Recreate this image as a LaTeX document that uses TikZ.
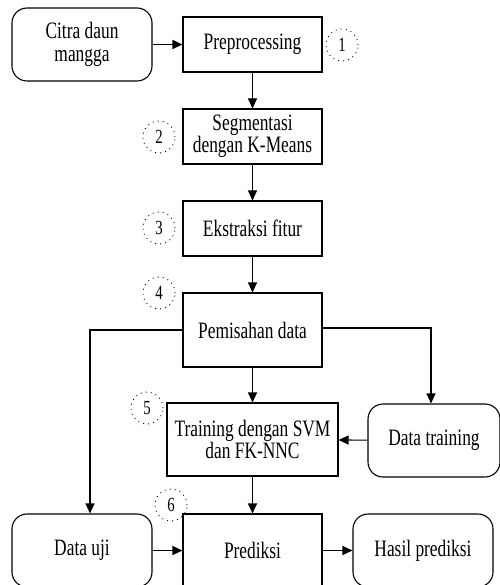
\documentclass[tikz,border=0pt]{standalone}
\usepackage{fontspec}
\setmainfont{Liberation Serif}[FakeStretch=0.74]
\usetikzlibrary{arrows.meta}
\begin{document}
\begin{tikzpicture}[x=1pt,y=-1pt,
  every node/.style={font=\fontsize{23.5}{22.5}\selectfont},
  box/.style={draw, line width=1.1pt, align=center, inner sep=0pt, minimum width=139pt},
  rbox/.style={box, rounded corners=15pt},
  num/.style={draw, circle, line width=0.9pt, dash pattern=on 0.9pt off 4.2pt, minimum size=32pt, inner sep=0pt, font=\fontsize{20}{20}\selectfont},
  conn/.style={line width=1.1pt, -{Triangle[length=10pt,width=9pt]}}]
\useasboundingbox (0,0) rectangle (499,585);
\node[rbox, minimum width=140pt, minimum height=73pt] (cit) at (82,44.5) {Citra daun\\mangga};
\node[box, minimum height=55pt] (pre) at (252.5,44.5) {Preprocessing};
\node[box, minimum height=55pt] (seg) at (252.5,136.5) {Segmentasi\\dengan K-Means};
\node[box, minimum height=55pt] (eks) at (252.5,228.5) {Ekstraksi fitur};
\node[box, minimum height=74pt] (pem) at (252.5,330) {Pemisahan data};
\node[box, minimum width=171pt, minimum height=73pt] (tr) at (252.5,439.5) {Training dengan SVM\\dan FK-NNC};
\node[rbox, minimum width=132pt, minimum height=73pt] (dt) at (434,440.5) {Data training};
\node[box, minimum height=73pt] (pred) at (252.5,550.5) {Prediksi};
\node[rbox, minimum width=140pt, minimum height=73pt] (uji) at (82,550.5) {Data uji};
\node[rbox, minimum width=140pt, minimum height=73pt] (has) at (423,550.5) {Hasil prediksi};
\node[num] (n1) at (342,45) {1};
\node[num] (n2) at (159,137) {2};
\node[num] (n3) at (159,228) {3};
\node[num] (n4) at (159,293) {4};
\node[num] (n5) at (147,408) {5};
\node[num] (n6) at (171,505) {6};
\draw[conn] (cit) -- (pre);
\draw[conn] (pre) -- (seg);
\draw[conn] (seg) -- (eks);
\draw[conn] (eks) -- (pem);
\draw[conn] (pem) -- (tr);
\draw[conn] (pem.west) -| ([xshift=8]uji.north);
\draw[conn] ([yshift=2]pem.east) -| ([xshift=-3]dt.north);
\draw[conn] (dt) -- (tr);
\draw[conn] (tr) -- (pred);
\draw[conn] (uji) -- (pred);
\draw[conn] (pred) -- (has);
\end{tikzpicture}
\end{document}
